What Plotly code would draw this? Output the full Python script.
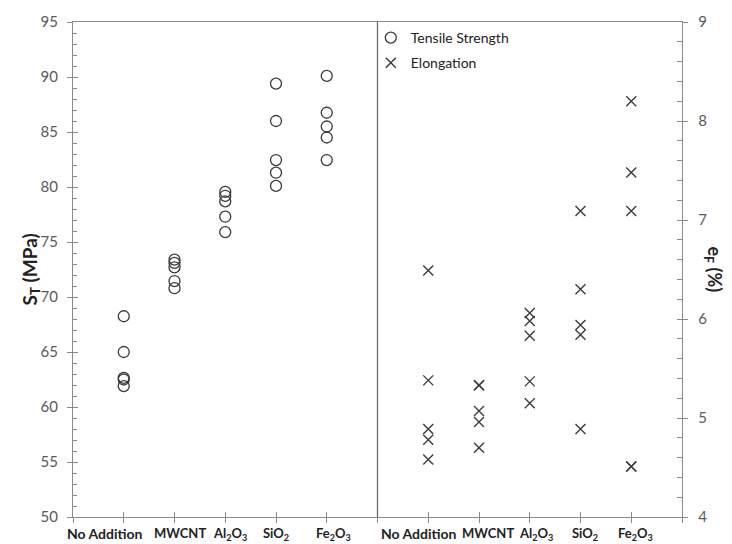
import plotly.graph_objects as go

categories = ["No Addition", "MWCNT", "Al<sub>2</sub>O<sub>3</sub>", "SiO<sub>2</sub>", "Fe<sub>2</sub>O<sub>3</sub>"]

tensile = {
    "No Addition": [68.25, 65.0, 62.65, 62.5, 61.9],
    "MWCNT": [73.4, 73.1, 72.7, 71.45, 70.8],
    "Al<sub>2</sub>O<sub>3</sub>": [79.55, 79.2, 78.7, 77.3, 75.9],
    "SiO<sub>2</sub>": [89.4, 86.0, 82.45, 81.3, 80.1],
    "Fe<sub>2</sub>O<sub>3</sub>": [90.1, 86.75, 85.5, 84.5, 82.45],
}

elongation = {
    "No Addition": [6.49, 5.38, 4.89, 4.78, 4.58],
    "MWCNT": [5.33, 5.33, 5.07, 4.96, 4.70],
    "Al<sub>2</sub>O<sub>3</sub>": [6.06, 5.98, 5.83, 5.37, 5.15],
    "SiO<sub>2</sub>": [7.09, 6.30, 5.94, 5.84, 4.89],
    "Fe<sub>2</sub>O<sub>3</sub>": [8.20, 7.48, 7.09, 4.51, 4.51],
}

# layout constants (positions of the two category blocks on the shared axis)
left_pos = [1, 2, 3, 4, 5]
right_pos = [7, 8, 9, 10, 11]
left_label_pos = [0.64, 2.1, 3.09, 4.0, 5.14]
right_label_pos = [6.82, 8.18, 9.12, 10.08, 11.08]

AX = "#8a8a8a"
TXT = "#595959"
MK = "#3a3a3a"
FONT = "Lato"

tx, ty = [], []
for p, c in zip(left_pos, categories):
    for v in tensile[c]:
        tx.append(p); ty.append(v)
ex, ey = [], []
for p, c in zip(right_pos, categories):
    for v in elongation[c]:
        ex.append(p); ey.append(v)

fig = go.Figure()
fig.add_trace(go.Scatter(
    x=tx, y=ty, mode="markers", name="Tensile Strength", legendgroup="a",
    marker=dict(symbol="circle-open", size=11, color=MK, line=dict(width=1.3, color=MK)),
    xaxis="x", yaxis="y"))
fig.add_trace(go.Scatter(
    x=ex, y=ey, mode="markers", name="Elongation", legendgroup="b",
    marker=dict(symbol="x-thin-open", size=10, color=MK, line=dict(width=1.4, color=MK)),
    xaxis="x", yaxis="y2"))
# helper traces so the overlay tick axes are drawn
fig.add_trace(go.Scatter(x=[None], y=[None], xaxis="x3", yaxis="y3", showlegend=False, hoverinfo="skip"))
fig.add_trace(go.Scatter(x=[None], y=[None], xaxis="x3", yaxis="y4", showlegend=False, hoverinfo="skip"))

common_x = dict(range=[0, 12], tickvals=list(range(13)), showgrid=False, zeroline=False)
fig.update_layout(
    width=732, height=544,
    margin=dict(l=73, r=50, t=19, b=27),
    paper_bgcolor="white", plot_bgcolor="white",
    font=dict(family=FONT, color=TXT, size=15),
    xaxis=dict(**common_x, showticklabels=False, ticks="outside", ticklen=5, tickcolor=AX,
               showline=True, linecolor=AX, linewidth=1.3, mirror=True),
    xaxis3=dict(**common_x, overlaying="x", anchor="y3", showticklabels=False, ticks="inside",
                ticklen=5, tickcolor=AX, showline=False),
    yaxis=dict(range=[50, 95], dtick=5, tick0=50, showgrid=False, zeroline=False,
               ticks="outside", ticklen=5, tickcolor=AX, showline=True, linecolor=AX, linewidth=1.3,
               ticklabelstandoff=6, tickfont=dict(size=15, color=TXT)),
    yaxis3=dict(range=[50, 95], dtick=5, tick0=50, overlaying="y", anchor="x3", side="left",
                showgrid=False, zeroline=False, showticklabels=False, ticks="inside", ticklen=5,
                tickcolor=AX, showline=False,
                minor=dict(dtick=1, tick0=50, ticks="inside", ticklen=4, tickcolor=AX, showgrid=False)),
    yaxis2=dict(range=[4, 9], dtick=1, tick0=4, overlaying="y", side="right", anchor="x",
                showgrid=False, zeroline=False, ticks="outside", ticklen=5, tickcolor=AX,
                showline=True, linecolor=AX, linewidth=1.3, ticklabelstandoff=7,
                tickfont=dict(size=15, color=TXT)),
    yaxis4=dict(range=[4, 9], dtick=1, tick0=4, overlaying="y", side="right", anchor="x3",
                showgrid=False, zeroline=False, showticklabels=False, ticks="inside", ticklen=5,
                tickcolor=AX, showline=False,
                minor=dict(dtick=0.2, tick0=4, ticks="inside", ticklen=5, tickcolor=AX, showgrid=False)),
    legend=dict(x=0.489, y=1.0, xanchor="left", yanchor="top", bgcolor="rgba(0,0,0,0)",
                font=dict(family=FONT, size=14, color="#222222"), itemwidth=30,
                traceorder="grouped", tracegroupgap=4),
    showlegend=True,
)

# divider between the two panels
fig.add_shape(type="line", xref="x", yref="paper", x0=6, x1=6, y0=0, y1=1,
              line=dict(color="#6a6a6a", width=1.3))

for i, (p, c) in enumerate(zip(left_label_pos + right_label_pos, categories + categories)):
    size = 14 if c == "No Addition" else 13
    fig.add_annotation(x=p, y=0, xref="x", yref="paper", text=f"<b>{c}</b>", showarrow=False,
                       xanchor="center", yanchor="top", yshift=-6,
                       font=dict(family=FONT, size=size, color="#222222"))

fig.add_annotation(x=-0.0706, y=0.5, xref="paper", yref="paper", text="<b>S<sub>T</sub> (MPa)</b>",
                   textangle=-90, showarrow=False, xanchor="center", yanchor="middle",
                   font=dict(family=FONT, size=19, color="#222222"))
fig.add_annotation(x=1.051, y=0.5, xref="paper", yref="paper", text="<b>e<sub>F</sub> (%)</b>",
                   textangle=90, showarrow=False, xanchor="center", yanchor="middle",
                   font=dict(family=FONT, size=18, color="#222222"))

fig.write_html("out.html", config={"displayModeBar": False},
               post_script="document.body.style.margin='0px';")
